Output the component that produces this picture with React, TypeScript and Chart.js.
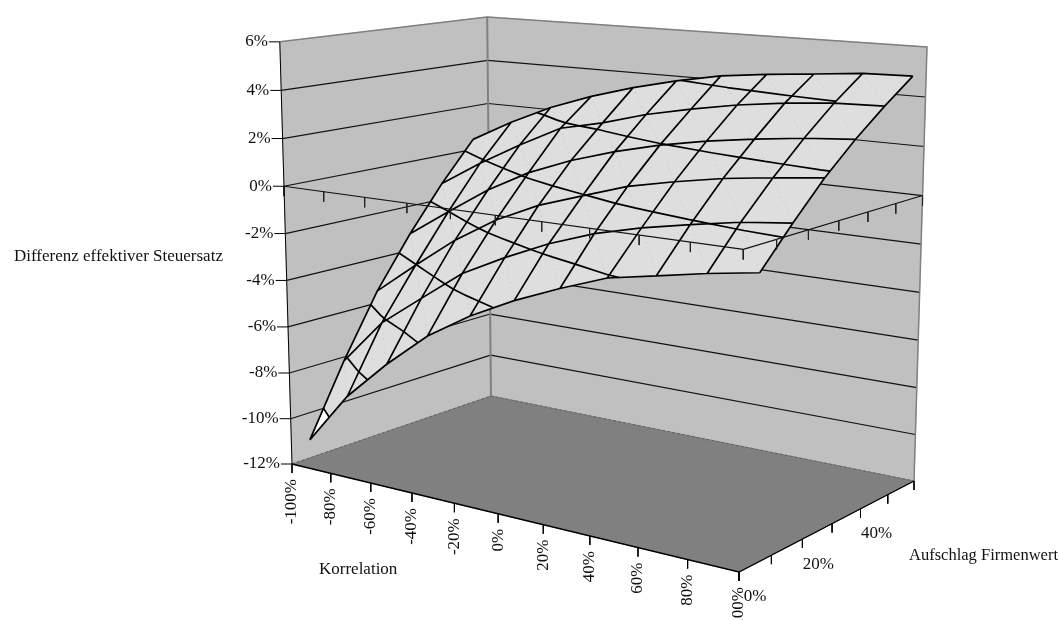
import React, { useEffect, useRef } from "react";
import { Chart, registerables } from "chart.js";

Chart.register(...registerables);

const WIDTH = 1059;
const HEIGHT = 620;

// Korrelation categories
const correlationLabels = ["-100%", "-80%", "-60%", "-40%", "-20%", "0%", "20%", "40%", "60%", "80%", "100%"];
// Labels on the depth axis, one every second tick
const premiumLabels = ["0%", "", "20%", "", "40%", "", ""];
// Value axis, in percent
const valueTicks = [6, 4, 2, 0, -2, -4, -6, -8, -10, -12];

// Difference of the effective tax rate (percent), one row per premium step, front row first
const rowA = [-11.2, -8.9, -7.17, -5.64, -4.5, -3.57, -2.79, -2.09, -1.72, -1.35, -1.04];
const rowB = [-8.17, -6.16, -4.79, -3.44, -2.5, -1.66, -0.99, -0.51, -0.13, 0.21, 0.43];
const rowC = [-5.46, -4.03, -2.66, -1.54, -0.68, -0.05, 0.57, 0.98, 1.33, 1.58, 1.8];
const rowD = [-3.25, -2.01, -0.81, 0.17, 0.9, 1.48, 1.95, 2.31, 2.59, 2.82, 2.97];
const rowE = [-1.29, -0.14, 0.88, 1.81, 2.23, 2.77, 3.17, 3.52, 3.77, 3.94, 4.0];
const rowF = [0.46, 1.44, 2.29, 2.96, 3.51, 3.96, 4.33, 4.55, 4.72, 4.9, 4.95];
const surfaceRows = [rowA, rowB, rowC, rowD, rowE, rowF];

const Z_MIN = -12;
const Z_MAX = 6;
const Z_STEP = 2;

type P = { x: number; y: number };

// Box corners on screen: floor left, front, right, back, then the three visible top corners
const FL: P = { x: 292, y: 464 };
const FF: P = { x: 739, y: 572 };
const FR: P = { x: 914, y: 481 };
const FB: P = { x: 491, y: 396 };
const TL: P = { x: 280, y: 42 };
const TB: P = { x: 487, y: 16 };
const TR: P = { x: 927, y: 48 };

// Perspective camera: floor homography plus one column for height
function buildCamera() {
  const dx1 = FF.x - FR.x, dx2 = FB.x - FR.x, sx = FL.x - FF.x + FR.x - FB.x;
  const dy1 = FF.y - FR.y, dy2 = FB.y - FR.y, sy = FL.y - FF.y + FR.y - FB.y;
  const den = dx1 * dy2 - dx2 * dy1;
  const g = (sx * dy2 - dx2 * sy) / den;
  const h = (dx1 * sy - sx * dy1) / den;
  const a = FF.x - FL.x + g * FF.x, b = FB.x - FL.x + h * FB.x, c = FL.x;
  const d = FF.y - FL.y + g * FF.y, e = FB.y - FL.y + h * FB.y, f = FL.y;
  const tops: [number, number, P][] = [[0, 0, TL], [0, 1, TB], [1, 1, TR]];
  const cs: number[] = [], es: number[] = [];
  tops.forEach(([u, v, t]) => {
    const w = g * u + h * v + 1;
    cs.push(t.x * w - (a * u + b * v + c));
    es.push(t.y * w - (d * u + e * v + f));
  });
  const mean = (l: number[]) => l.reduce((s, n) => s + n, 0) / l.length;
  const xs = tops.map((t) => t[2].x), ys = tops.map((t) => t[2].y);
  const mc = mean(cs), me = mean(es), mx = mean(xs), my = mean(ys);
  let num = 0, dn = 0;
  for (let i = 0; i < 3; i++) {
    num += (cs[i] - mc) * (xs[i] - mx) + (es[i] - me) * (ys[i] - my);
    dn += (xs[i] - mx) ** 2 + (ys[i] - my) ** 2;
  }
  const r = -num / dn;
  const p = mc + mx * r, q = me + my * r;
  return (u: number, v: number, z: number): P => {
    const t = (z - Z_MIN) / (Z_MAX - Z_MIN);
    const w = g * u + h * v + r * t + 1;
    return { x: (a * u + b * v + p * t + c) / w, y: (d * u + e * v + q * t + f) / w };
  };
}
const project = buildCamera();

const nCols = correlationLabels.length;
const nRows = surfaceRows.length;
const nDepthTicks = premiumLabels.length;
const colU = (k: number) => k / (nCols - 1);
// Rows sit half a step inside the depth axis
const rowV = (i: number) => (i + 0.5) / (nDepthTicks - 1);
const node = (k: number, i: number) => project(colU(k), rowV(i), surfaceRows[i][k]);

const GAP = { x: NaN, y: NaN };
const joinSegments = (segs: P[][]) => {
  const out: P[] = [];
  segs.forEach((s) => { out.push(...s, GAP); });
  return out;
};

type V = { u: number; v: number; z: number };
const toScreen = (p: V) => project(p.u, p.v, p.z);
const mix = (a: V, b: V, t: number): V => ({ u: a.u + (b.u - a.u) * t, v: a.v + (b.v - a.v) * t, z: a.z + (b.z - a.z) * t });

// Triangles of the surface; each cell is split along the same diagonal
const triangles: V[][] = [];
const vert = (k: number, i: number): V => ({ u: colU(k), v: rowV(i), z: surfaceRows[i][k] });
for (let i = 0; i < nRows - 1; i++) {
  for (let k = 0; k < nCols - 1; k++) {
    triangles.push([vert(k, i), vert(k + 1, i), vert(k, i + 1)]);
    triangles.push([vert(k + 1, i), vert(k + 1, i + 1), vert(k, i + 1)]);
  }
}

function contourSegments(): P[][] {
  const segs: P[][] = [];
  for (let level = Z_MIN + Z_STEP; level < Z_MAX; level += Z_STEP) {
    triangles.forEach((tri) => {
      const hits: P[] = [];
      for (let j = 0; j < 3; j++) {
        const a = tri[j], b = tri[(j + 1) % 3];
        if ((a.z - level) * (b.z - level) < 0) hits.push(toScreen(mix(a, b, (level - a.z) / (b.z - a.z))));
      }
      if (hits.length === 2) segs.push(hits);
    });
  }
  return segs;
}

// Part of a triangle lying below a level
function clipBelow(tri: V[], level: number): V[] {
  const out: V[] = [];
  for (let j = 0; j < 3; j++) {
    const a = tri[j], b = tri[(j + 1) % 3];
    if (a.z <= level) out.push(a);
    if ((a.z - level) * (b.z - level) < 0) out.push(mix(a, b, (level - a.z) / (b.z - a.z)));
  }
  return out;
}

const INK = "#111111";
const EDGE = "#808080";
const WALL = "#c0c0c0";
const FLOOR = "#808080";
const SURFACE = "#dedede";

function buildDatasets() {
  const sets: any[] = [];
  const polygon = (pts: P[], color: string) =>
    sets.push({ data: [...pts, pts[0]], fill: "shape", backgroundColor: color, borderColor: color, borderWidth: 1 });
  const stroke = (segs: P[][], color: string, width: number, dash: number[] = []) =>
    sets.push({ data: joinSegments(segs), fill: false, borderColor: color, borderWidth: width, borderDash: dash });

  const frontBottom = project(1, 0, Z_MIN);
  const L = (z: number) => project(0, 0, z);
  const B = (z: number) => project(0, 1, z);
  const R = (z: number) => project(1, 1, z);

  // Walls and floor
  polygon([L(Z_MAX), B(Z_MAX), B(Z_MIN), L(Z_MIN)], WALL);
  polygon([B(Z_MAX), R(Z_MAX), R(Z_MIN), B(Z_MIN)], WALL);
  polygon([L(Z_MIN), B(Z_MIN), R(Z_MIN), frontBottom], FLOOR);

  // Value gridlines on both walls
  const grid: P[][] = [];
  valueTicks.filter((z) => z !== Z_MAX && z !== Z_MIN).forEach((z) => {
    grid.push([L(z), B(z)], [B(z), R(z)]);
  });
  stroke(grid, "#111111", 1.2);
  stroke([[L(Z_MAX), B(Z_MAX), R(Z_MAX), R(Z_MIN)]], EDGE, 1.5);
  stroke([[B(Z_MAX), B(Z_MIN)]], EDGE, 2);
  stroke([[L(Z_MIN), B(Z_MIN), R(Z_MIN)]], "#606060", 1, [3, 2]);
  stroke([[L(Z_MIN), frontBottom, R(Z_MIN)]], "#000000", 1.3);

  // Surface cells, far rows first
  for (let i = nRows - 2; i >= 0; i--) {
    for (let k = 0; k < nCols - 1; k++) {
      polygon([node(k, i), node(k + 1, i), node(k + 1, i + 1), node(k, i + 1)], SURFACE);
    }
  }
  // Lowest band
  triangles.forEach((tri) => {
    const low = clipBelow(tri, Z_MIN + Z_STEP);
    if (low.length > 2) polygon(low.map(toScreen), "#ffffff");
  });

  // Faint seams along the cell diagonals
  const seams: P[][] = [];
  for (let i = 0; i < nRows - 1; i++) {
    for (let k = 0; k < nCols - 1; k++) seams.push([node(k, i + 1), node(k + 1, i)]);
  }
  stroke(seams, "rgba(165,165,165,0.4)", 0.6, [2, 3]);

  // Mesh and band boundaries
  const mesh: P[][] = [];
  for (let i = 0; i < nRows; i++) mesh.push(surfaceRows[i].map((_, k) => node(k, i)));
  for (let k = 0; k < nCols; k++) mesh.push(surfaceRows.map((_, i) => node(k, i)));
  stroke(mesh, "#000000", 1.7);
  stroke(contourSegments(), "#000000", 1.7);

  // Axis plane at zero with its ticks, lying over the surface
  const zero = (u: number, v: number) => project(u, v, 0);
  stroke([[zero(0, 0), zero(1, 0), zero(1, 1)]], "#111111", 1.1);
  const zeroTicks: P[][] = [];
  correlationLabels.forEach((_, k) => {
    const p = zero(colU(k), 0);
    zeroTicks.push([p, { x: p.x, y: p.y + 10 }]);
  });
  premiumLabels.forEach((_, j) => {
    const p = zero(1, j / (nDepthTicks - 1));
    zeroTicks.push([p, { x: p.x, y: p.y + 10 }]);
  });
  stroke(zeroTicks, "#222222", 1);

  // Outer axes and their ticks
  const axisTicks: P[][] = [];
  valueTicks.forEach((z) => {
    const p = L(z);
    axisTicks.push([p, { x: p.x - 11, y: p.y }]);
  });
  correlationLabels.forEach((_, k) => {
    const p = project(colU(k), 0, Z_MIN);
    axisTicks.push([p, { x: p.x, y: p.y + 9 }]);
  });
  premiumLabels.forEach((_, j) => {
    const p = project(1, j / (nDepthTicks - 1), Z_MIN);
    axisTicks.push([p, { x: p.x, y: p.y + 9 }]);
  });
  axisTicks.push([L(Z_MAX), L(Z_MIN)]);
  stroke(axisTicks, "#000000", 1);

  return sets.map((s, idx) => ({ ...s, order: sets.length - idx, clip: false, pointRadius: 0, spanGaps: false, tension: 0 }));
}

// Axis labels and titles
const axisText = {
  id: "axisText",
  afterDatasetsDraw(chart: any) {
    const { ctx } = chart;
    ctx.save();
    ctx.font = '17px "Liberation Serif"';
    ctx.fillStyle = INK;
    ctx.textBaseline = "middle";

    ctx.textAlign = "right";
    valueTicks.forEach((z) => {
      const p = project(0, 0, z);
      ctx.fillText(`${z}%`, p.x - 12, p.y);
    });

    correlationLabels.forEach((label, k) => {
      const p = project(colU(k), 0, Z_MIN);
      ctx.save();
      ctx.translate(p.x, p.y + 15);
      ctx.rotate(-Math.PI / 2);
      ctx.textAlign = "right";
      ctx.fillText(label, 0, 0);
      ctx.restore();
    });

    ctx.textAlign = "center";
    premiumLabels.forEach((label, j) => {
      if (!label) return;
      const p = project(1, j / (nDepthTicks - 1), Z_MIN);
      ctx.fillText(label, p.x + 16, p.y + 25);
    });

    ctx.textAlign = "left";
    ctx.fillText("Differenz effektiver Steuersatz", 14, 257);
    ctx.fillText("Korrelation", 319, 570);
    ctx.fillText("Aufschlag Firmenwert", 909, 556, 149);
    ctx.restore();
  },
};

export default function App() {
  const ref = useRef<HTMLCanvasElement>(null);
  useEffect(() => {
    document.body.style.margin = "0";
    const chart = new Chart(ref.current as HTMLCanvasElement, {
      type: "scatter",
      data: { datasets: buildDatasets() },
      options: {
        animation: false,
        responsive: false,
        showLine: true,
        layout: { padding: 0 },
        plugins: { legend: { display: false }, tooltip: { enabled: false } },
        events: [],
        scales: {
          x: { type: "linear", min: 0, max: WIDTH, display: false },
          y: { type: "linear", min: 0, max: HEIGHT, reverse: true, display: false },
        },
      } as any,
      plugins: [axisText],
    });
    return () => chart.destroy();
  }, []);
  return <canvas ref={ref} width={WIDTH} height={HEIGHT} style={{ display: "block" }} />;
}
